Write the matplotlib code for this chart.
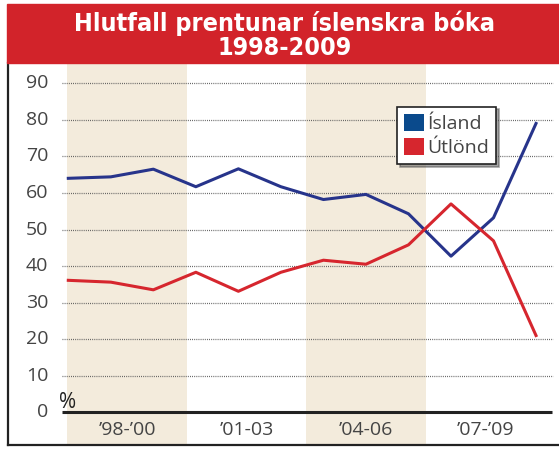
import matplotlib
matplotlib.use("Agg")
import matplotlib.pyplot as plt
from matplotlib.patches import Patch, Rectangle

# data (percent of book printing)
years = list(range(1998, 2010))
island = [64.0, 64.4, 66.5, 61.7, 66.6, 61.7, 58.2, 59.6, 54.3, 42.7, 53.2, 79.0]
utlond = [36.1, 35.6, 33.5, 38.3, 33.1, 38.3, 41.6, 40.5, 45.8, 57.0, 46.9, 21.0]
periods = ["\u201998-\u201900", "\u201901-03", "\u201904-06", "\u201907-\u201909"]
yticks = [0, 10, 20, 30, 40, 50, 60, 70, 80, 90]

title = "Hlutfall prentunar íslenskra bóka\n1998-2009"

BLUE = "#27348b"
RED = "#d6262e"
BAND = "#f3ebdc"
GREY = "#444444"
FONT = ["Open Sans", "DejaVu Sans"]

W, H = 559, 449


def fx(px):
    return px / W


def fy(py):
    return 1 - py / H


fig = plt.figure(figsize=(W / 100, H / 100), dpi=100)

# title bar
fig.patches.append(Rectangle((fx(7), fy(63)), fx(559) - fx(7), fy(4) - fy(63),
                             transform=fig.transFigure, color="#d2232a", zorder=0))
fig.text(fx(285), fy(35), title, ha="center", va="center", color="white",
         fontsize=18, fontweight="bold", family="DejaVu Sans", fontstretch="condensed",
         linespacing=1.02)

# plot area in pixel terms
x0px, xstep = 68.3, 42.52      # first point, px per year
y0px, ystep = 412.3, 3.656     # zero line, px per percent

ax = fig.add_axes([fx(8), fy(445), fx(559) - fx(8), fy(63) - fy(445)])
ax.set_xlim((8 - x0px) / xstep, (559 - x0px) / xstep)
ax.set_ylim(-(445 - y0px) / ystep, 90 + (y0px - ystep * 90 - 63) / ystep)

xs = [y - years[0] for y in years]

# shaded periods
band_w = 119.5 / xstep
band_start = (67.3 - x0px) / xstep
for i, lab in enumerate(periods):
    left = band_start + i * band_w
    if i % 2 == 0:
        ax.axvspan(left, left + band_w, color=BAND, lw=0, zorder=0)
    ax.text(left + band_w / 2, -(430 - y0px) / ystep, lab, ha="center", va="center",
            fontsize=14, color=GREY, family=FONT)

gx0 = (61.7 - x0px) / xstep
gx1 = (553 - x0px) / xstep
ax.hlines(yticks[1:], gx0, gx1, colors="#555555", lw=0.9, linestyles=(0, (0.7, 1.0)), zorder=1)
ax.hlines(0, gx0, (551.7 - x0px) / xstep, colors="#222222", lw=2.2, zorder=3)

for v in yticks:
    ax.text((48.5 - x0px) / xstep, v, str(v), ha="right", va="center", fontsize=14,
            color=GREY, family=FONT)
ax.text((67.5 - x0px) / xstep, (y0px - 403) / ystep, "%", ha="center", va="center",
        fontsize=15, color="#222222", family=FONT)

ax.plot(xs, island, color=BLUE, lw=2.2, zorder=4)
ax.plot(xs, utlond, color=RED, lw=2.2, zorder=4)

for side in ["top", "right"]:
    ax.spines[side].set_visible(False)
for side in ["left", "bottom"]:
    ax.spines[side].set_color("#222222")
    ax.spines[side].set_linewidth(1.6)
ax.set_xticks([])
ax.set_yticks([])

handles = [Patch(facecolor="#0a4a8c", label="Ísland"), Patch(facecolor=RED, label="Útlönd")]
leg = ax.legend(handles=handles, loc="upper left", bbox_to_anchor=(fx(397.3), fy(106.7)),
                bbox_transform=fig.transFigure, frameon=True, fancybox=False, shadow=True,
                prop={"family": FONT, "size": 14}, handlelength=1.0, handleheight=1.0,
                handletextpad=0.2, labelspacing=0.25, borderpad=0.35, borderaxespad=0)
leg.get_frame().set_edgecolor("#222222")
leg.get_frame().set_linewidth(1.2)
for t in leg.get_texts():
    t.set_color(GREY)

fig.savefig("out.png", dpi=100)
